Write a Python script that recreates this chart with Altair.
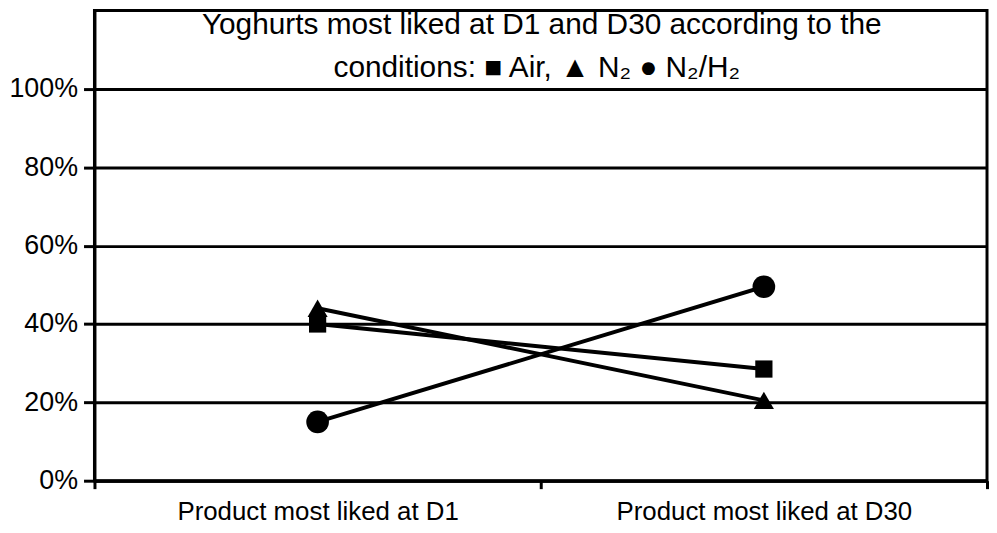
import altair as alt
import pandas as pd

# Data
periods = ["Product most liked at D1", "Product most liked at D30"]
conditions = ["Air", "N2", "N2/H2"]
air_values = [0.40, 0.285]
n2_values = [0.44, 0.205]
n2h2_values = [0.15, 0.495]
y_ticks = [0, 0.2, 0.4, 0.6, 0.8, 1.0]
title_lines = [
    "Yoghurts most liked at D1 and D30 according to the",
    "conditions: \u25A0 Air, \u25B2 N\u2082 \u25CF N\u2082/H\u2082",
]

rows = []
for cond, vals in zip(conditions, [air_values, n2_values, n2h2_values]):
    for p, v in zip(periods, vals):
        rows.append({"period": p, "condition": cond, "value": v})
df = pd.DataFrame(rows)

FONT = "Liberation Sans, Arial, sans-serif"

x_enc = alt.X(
    "period:N",
    sort=periods,
    title=None,
    scale=alt.Scale(paddingInner=0, paddingOuter=0),
    axis=alt.Axis(
        labelAngle=0,
        labelFont=FONT,
        labelFontSize=26,
        labelColor="black",
        labelPadding=10,
        labelLimit=0,
        tickBand="extent",
        tickSize=8,
        tickWidth=3,
        tickColor="black",
        domainColor="black",
        domainWidth=3,
        grid=False,
    ),
)
y_enc = alt.Y(
    "value:Q",
    title=None,
    scale=alt.Scale(domain=[0, 1.2], nice=False),
    axis=alt.Axis(
        values=y_ticks,
        format=".0%",
        labelFont=FONT,
        labelFontSize=27,
        labelColor="black",
        labelPadding=6,
        labelLimit=0,
        tickSize=11,
        tickWidth=3,
        tickColor="black",
        domainColor="black",
        domainWidth=3,
        grid=True,
        gridColor="black",
        gridWidth=3,
        gridOpacity=1,
    ),
)

base = alt.Chart(df)

lines = base.mark_line(color="black", strokeWidth=4).encode(
    x=x_enc, y=y_enc, detail="condition:N"
)

points = base.mark_point(filled=True, color="black", opacity=1).encode(
    x=x_enc,
    y=y_enc,
    shape=alt.Shape(
        "condition:N",
        scale=alt.Scale(domain=conditions, range=["square", "triangle-up", "circle"]),
        legend=None,
    ),
    size=alt.Size(
        "condition:N",
        scale=alt.Scale(domain=conditions, range=[300, 520, 640]),
        legend=None,
    ),
)

text_data = alt.Data(values=[{"i": 0}])
t1 = alt.Chart(text_data).mark_text(
    font=FONT, fontSize=30, color="black", align="center", baseline="alphabetic"
).encode(x=alt.value(450), y=alt.value(24), text=alt.value(title_lines[0]))
t2 = alt.Chart(text_data).mark_text(
    font=FONT, fontSize=30, color="black", align="center", baseline="alphabetic"
).encode(x=alt.value(445), y=alt.value(67), text=alt.value(title_lines[1]))

chart = (
    alt.layer(lines, points, t1, t2)
    .properties(
        width=898,
        height=473,
        autosize=alt.AutoSizeParams(type="none"),
        padding={"left": 87, "top": 1, "right": 2, "bottom": 44},
        background="white",
    )
    .configure_view(stroke="black", strokeWidth=3)
)

chart.save("out.html", embed_options={"renderer": "svg", "actions": False})
